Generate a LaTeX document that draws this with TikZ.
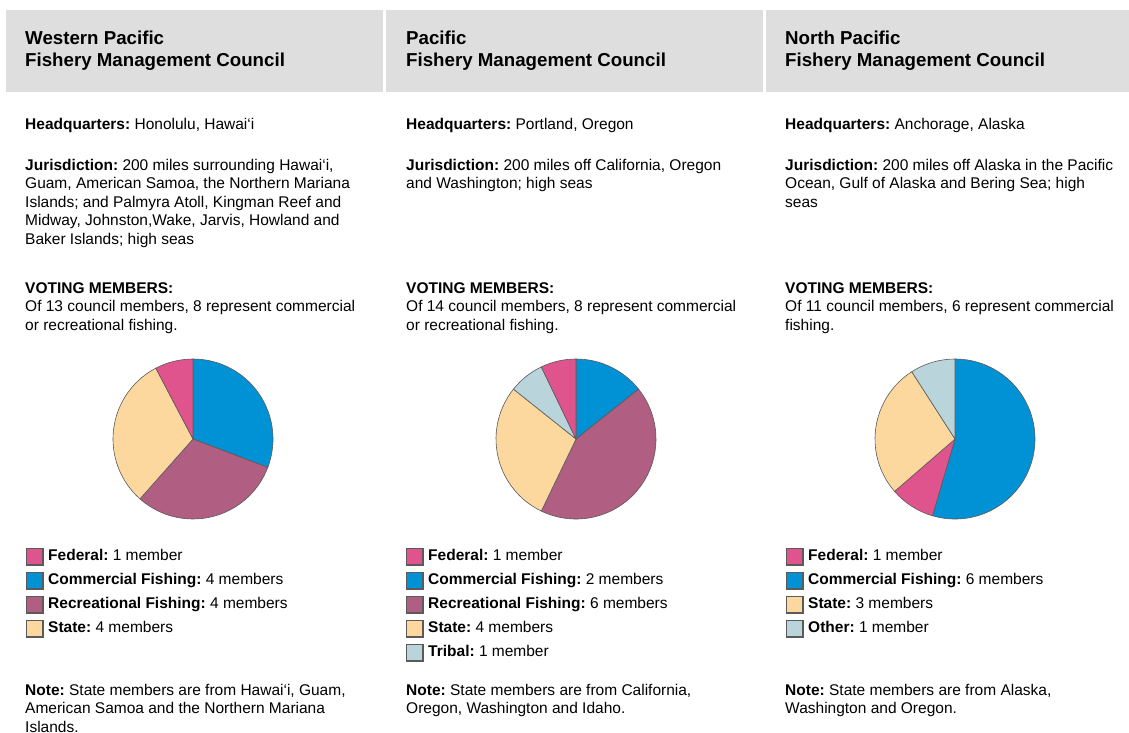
\documentclass[tikz,border=0pt]{standalone}
\usepackage{fontspec}
\setmainfont{Liberation Sans}
\frenchspacing
\definecolor{hdr}{RGB}{222,222,222}
\definecolor{fed}{RGB}{224,84,142}
\definecolor{com}{RGB}{0,146,212}
\definecolor{rec}{RGB}{176,94,130}
\definecolor{sta}{RGB}{253,216,158}
\definecolor{oth}{RGB}{185,212,219}
\definecolor{edge}{RGB}{90,90,90}
\newcommand{\bodyfont}{\fontsize{15.5}{18.5}\selectfont\frenchspacing}
\newcommand{\hdrfont}{\fontsize{18.7}{21.5}\selectfont\bfseries}
\newcommand{\txt}[2]{\parbox[t]{#1pt}{\raggedright\frenchspacing #2}}
\begin{document}
\begin{tikzpicture}[x=1pt,y=-1pt,
  hdrbox/.style={fill=hdr,draw=none},
  body/.style={anchor=base west,inner sep=0pt,font=\bodyfont},
  legbox/.style={draw=edge,line width=1.6pt,minimum size=16.4pt,inner sep=0pt,anchor=north west},
  slice/.style={draw=edge,line width=0.6pt}]
\useasboundingbox[fill=white] (0,0) rectangle (1129,733);
% headers
\fill[hdrbox] (6,10) rectangle (383,92);
\fill[hdrbox] (386,10) rectangle (763,92);
\fill[hdrbox] (766,10) rectangle (1129,92);
\node[body] (h1) at (25,45) {\txt{360}{\hdrfont Western Pacific\\Fishery Management Council}};
\node[body] (h2) at (406,45) {\txt{360}{\hdrfont Pacific\\Fishery Management Council}};
\node[body] (h3) at (785,45) {\txt{340}{\hdrfont North Pacific\\Fishery Management Council}};
% column 1
\node[body] (hq1) at (25,129) {\txt{360}{\textbf{Headquarters:} Honolulu, Hawai‘i}};
\node[body] (ju1) at (25,170) {\txt{360}{\textbf{Jurisdiction:} 200 miles surrounding Hawai‘i,\\Guam, American Samoa, the Northern Mariana\\Islands; and Palmyra Atoll, Kingman Reef and\\Midway, Johnston,Wake, Jarvis, Howland and\\Baker Islands; high seas}};
\node[body] (vm1) at (25,293) {\txt{360}{\textbf{VOTING MEMBERS:}\\Of 13 council members, 8 represent commercial\\or recreational fishing.}};
\node[body] (nt1) at (25,695) {\txt{360}{\textbf{Note:} State members are from Hawai‘i, Guam,\\American Samoa and the Northern Mariana\\Islands.}};
% column 2
\node[body] (hq2) at (406,129) {\txt{360}{\textbf{Headquarters:} Portland, Oregon}};
\node[body] (ju2) at (406,170) {\txt{360}{\textbf{Jurisdiction:} 200 miles off California, Oregon\\and Washington; high seas}};
\node[body] (vm2) at (406,293) {\txt{360}{\textbf{VOTING MEMBERS:}\\Of 14 council members, 8 represent commercial\\or recreational fishing.}};
\node[body] (nt2) at (406,695) {\txt{360}{\textbf{Note:} State members are from California,\\Oregon, Washington and Idaho.}};
% column 3
\node[body] (hq3) at (785,129) {\txt{340}{\textbf{Headquarters:} Anchorage, Alaska}};
\node[body] (ju3) at (785,170) {\txt{340}{\textbf{Jurisdiction:} 200 miles off Alaska in the Pacific\\Ocean, Gulf of Alaska and Bering Sea; high\\seas}};
\node[body] (vm3) at (785,293) {\txt{340}{\textbf{VOTING MEMBERS:}\\Of 11 council members, 6 represent commercial\\fishing.}};
\node[body] (nt3) at (785,695) {\txt{340}{\textbf{Note:} State members are from Alaska,\\Washington and Oregon.}};
% pies
\begin{scope}[shift={(193,439)}]
  \filldraw[slice,fill=com] (0,0) -- (-20.77:80pt) arc[start angle=-20.77,end angle=90,radius=80pt] -- cycle;
  \filldraw[slice,fill=rec] (0,0) -- (-131.54:80pt) arc[start angle=-131.54,end angle=-20.77,radius=80pt] -- cycle;
  \filldraw[slice,fill=sta] (0,0) -- (-242.31:80pt) arc[start angle=-242.31,end angle=-131.54,radius=80pt] -- cycle;
  \filldraw[slice,fill=fed] (0,0) -- (-270:80pt) arc[start angle=-270,end angle=-242.31,radius=80pt] -- cycle;
\end{scope}
\begin{scope}[shift={(576,439)}]
  \filldraw[slice,fill=com] (0,0) -- (38.57:80pt) arc[start angle=38.57,end angle=90,radius=80pt] -- cycle;
  \filldraw[slice,fill=rec] (0,0) -- (-115.71:80pt) arc[start angle=-115.71,end angle=38.57,radius=80pt] -- cycle;
  \filldraw[slice,fill=sta] (0,0) -- (-218.57:80pt) arc[start angle=-218.57,end angle=-115.71,radius=80pt] -- cycle;
  \filldraw[slice,fill=oth] (0,0) -- (-244.29:80pt) arc[start angle=-244.29,end angle=-218.57,radius=80pt] -- cycle;
  \filldraw[slice,fill=fed] (0,0) -- (-270:80pt) arc[start angle=-270,end angle=-244.29,radius=80pt] -- cycle;
\end{scope}
\begin{scope}[shift={(955,439)}]
  \filldraw[slice,fill=com] (0,0) -- (-106.36:80pt) arc[start angle=-106.36,end angle=90,radius=80pt] -- cycle;
  \filldraw[slice,fill=fed] (0,0) -- (-139.09:80pt) arc[start angle=-139.09,end angle=-106.36,radius=80pt] -- cycle;
  \filldraw[slice,fill=sta] (0,0) -- (-237.27:80pt) arc[start angle=-237.27,end angle=-139.09,radius=80pt] -- cycle;
  \filldraw[slice,fill=oth] (0,0) -- (-270:80pt) arc[start angle=-270,end angle=-237.27,radius=80pt] -- cycle;
\end{scope}
% legends column 1
\node[legbox,fill=fed] (l1a) at (25.8,547.8) {};
\node[legbox,fill=com] (l1b) at (25.8,571.8) {};
\node[legbox,fill=rec] (l1c) at (25.8,595.8) {};
\node[legbox,fill=sta] (l1d) at (25.8,619.8) {};
\node[body] (t1a) at (48,560) {\textbf{Federal:} 1 member};
\node[body] (t1b) at (48,584) {\textbf{Commercial Fishing:} 4 members};
\node[body] (t1c) at (48,608) {\textbf{Recreational Fishing:} 4 members};
\node[body] (t1d) at (48,632) {\textbf{State:} 4 members};
% legends column 2
\node[legbox,fill=fed] (l2a) at (405.8,547.8) {};
\node[legbox,fill=com] (l2b) at (405.8,571.8) {};
\node[legbox,fill=rec] (l2c) at (405.8,595.8) {};
\node[legbox,fill=sta] (l2d) at (405.8,619.8) {};
\node[legbox,fill=oth] (l2e) at (405.8,643.8) {};
\node[body] (t2a) at (428,560) {\textbf{Federal:} 1 member};
\node[body] (t2b) at (428,584) {\textbf{Commercial Fishing:} 2 members};
\node[body] (t2c) at (428,608) {\textbf{Recreational Fishing:} 6 members};
\node[body] (t2d) at (428,632) {\textbf{State:} 4 members};
\node[body] (t2e) at (428,656) {\textbf{Tribal:} 1 member};
% legends column 3
\node[legbox,fill=fed] (l3a) at (785.8,547.8) {};
\node[legbox,fill=com] (l3b) at (785.8,571.8) {};
\node[legbox,fill=sta] (l3c) at (785.8,595.8) {};
\node[legbox,fill=oth] (l3d) at (785.8,619.8) {};
\node[body] (t3a) at (808,560) {\textbf{Federal:} 1 member};
\node[body] (t3b) at (808,584) {\textbf{Commercial Fishing:} 6 members};
\node[body] (t3c) at (808,608) {\textbf{State:} 3 members};
\node[body] (t3d) at (808,632) {\textbf{Other:} 1 member};
\end{tikzpicture}
\end{document}
